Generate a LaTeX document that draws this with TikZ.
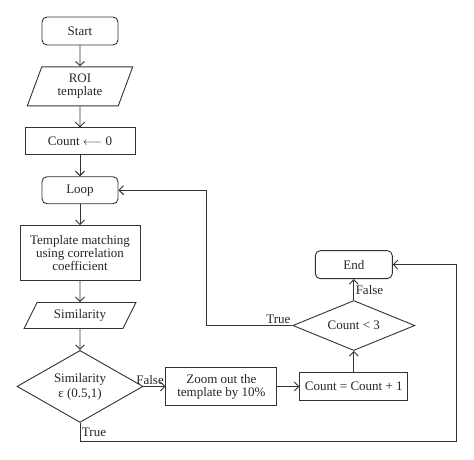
\documentclass[tikz,border=0pt]{standalone}
\usepackage{fontspec}
\setmainfont{Liberation Serif}
\usepackage{tikz}
\usetikzlibrary{arrows.meta,shapes.geometric,positioning}

\begin{document}
\begin{tikzpicture}[
        x=1pt, y=1pt,
        node distance=21pt and 22pt,
        every node/.style={draw=black!80, text=black!85, align=center, inner sep=2pt,
            font=\fontsize{13}{15}\selectfont},
        every path/.style={line width=0.9pt},
        >={Straight Barb[length=4.5pt,width=9pt]},
        terminal/.style={rounded corners=5pt, minimum width=76pt, minimum height=28pt},
        process/.style={minimum height=27pt},
        io/.style={trapezium, trapezium left angle=#1, trapezium right angle=180-#1,
            trapezium stretches=true},
        decision/.style={diamond, inner sep=0pt},
        lbl/.style={draw=none, inner sep=1.5pt},
        link/.style={->, draw=black!80}
    ]
    \useasboundingbox (0,0) rectangle (474,-459);

    % Nodes
    \node (start)[terminal] at (80,-31) {Start};
    \node (roi)[below=of start, io=72, minimum width=106pt, minimum height=39pt] {ROI\\[-2pt]template};
    \node (count0)[below=of roi, process, minimum width=110pt] {Count $\longleftarrow$ 0};
    \node (loop)[below=of count0, terminal, minimum height=27pt] {Loop};
    \node (match)[below=of loop, minimum width=120pt, minimum height=55pt] {Template matching\\[-2pt]using correlation\\[-2pt]coefficient};
    \node (simil)[below=of match, io=62, minimum width=112pt, minimum height=26pt] {Similarity};
    \node (simd)[below=of simil, decision, aspect=1.75, minimum width=126pt, minimum height=72pt] {Similarity\\ε (0.5,1)};

    \node (zoom)[right=of simd, minimum width=111pt, minimum height=38pt] {Zoom out the\\[-2pt]template by 10\%};
    \node (countinc)[right=of zoom, process, minimum width=108pt, minimum height=28pt] {Count = Count + 1};
    \node (countlt)[above=of countinc, decision, aspect=2.4, minimum width=122pt, minimum height=50pt] {Count < 3};
    \node (endn)[above=of countlt, terminal, minimum width=77pt] {End};

    \coordinate[right=88pt of loop.east] (loopback);
    \coordinate[below=19pt of simd.south] (simbelow);
    \coordinate[right=64pt of endn.east] (endback);

    % Edges
    \draw[link] (start) -- (roi);
    \draw[link] (roi) -- (count0);
    \draw[link] (count0) -- (loop);
    \draw[link] (loop) -- (match);
    \draw[link] (match) -- (simil);
    \draw[link] (simil) -- (simd);
    \draw[link] (simd) -- node[lbl, above, pos=0.3]{False} (zoom);
    \draw[link] (zoom) -- (countinc);
    \draw[link] (countinc) -- (countlt);
    \draw[link] (countlt) -- node[lbl, right]{False} (endn);
    \draw[link] (countlt.west) -- node[lbl, above left, pos=0]{True} (countlt.west -| loopback) -- (loopback) -- (loop.east);
    \draw[link] (simd.south) -- node[lbl, right]{True} (simbelow) -| (endback) -- (endn.east);

\end{tikzpicture}
\end{document}
